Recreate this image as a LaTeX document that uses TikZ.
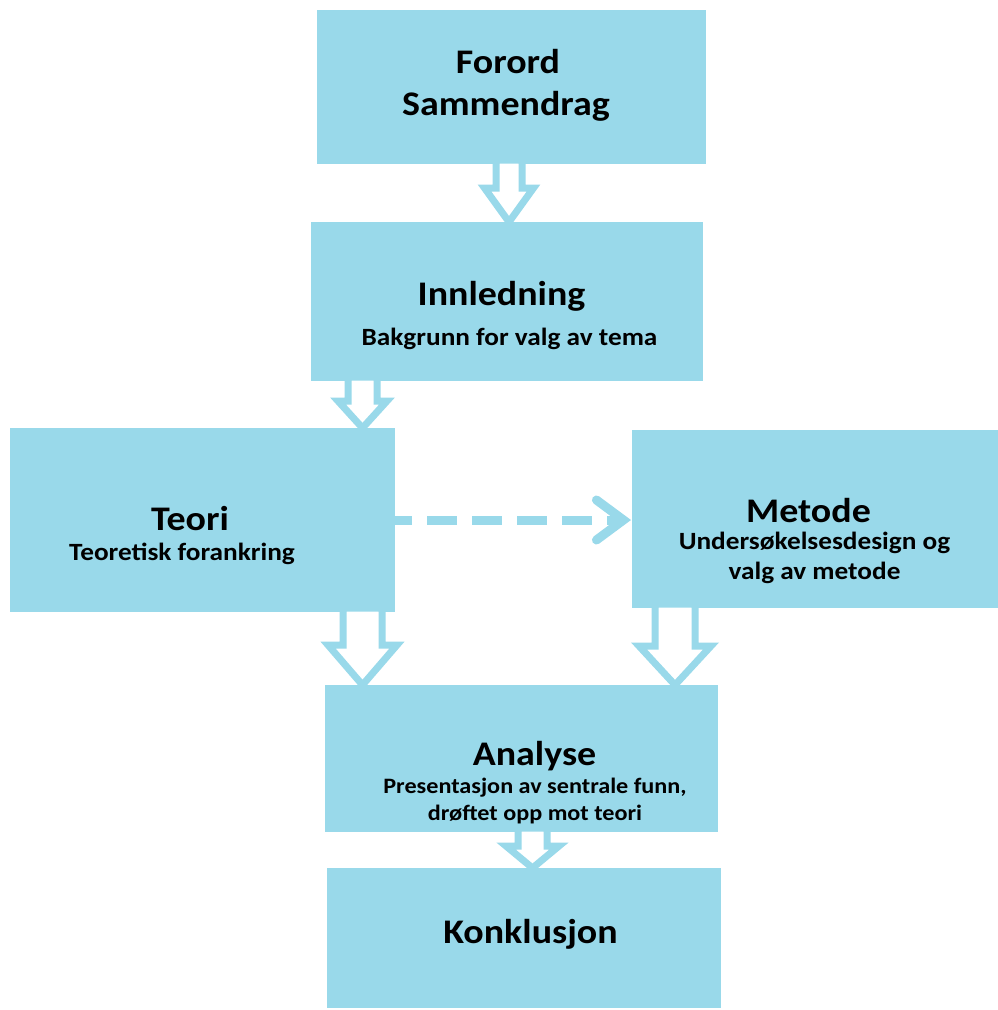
\documentclass[tikz,border=0pt]{standalone}
\usepackage{fontspec}
\setmainfont[FakeStretch=1.1]{Carlito}
\usetikzlibrary{calc,arrows.meta}
\definecolor{boxblue}{RGB}{153,217,234}
\tikzset{
  box/.style={fill=boxblue,draw=none,inner sep=0pt,outer sep=0pt},
  ttl/.style={font=\fontsize{34.5}{42}\selectfont\bfseries,anchor=base,inner sep=0pt,text=black},
  sub/.style={font=\fontsize{24.8}{28}\selectfont\bfseries,anchor=base,inner sep=0pt,text=black},
  subs/.style={font=\fontsize{22}{26}\selectfont\bfseries,anchor=base,inner sep=0pt,text=black},
  harrow/.style={draw=boxblue,fill=white,line width=7pt,line join=miter},
  dasharrow/.style={draw=boxblue,line width=9pt,dash pattern=on 30pt off 15pt,dash phase=13pt,
    -{Straight Barb[length=27pt,width=40pt,line cap=round,line width=9pt]}}
}
% #1 x, #2 from node, #3 to node, #4 shaft half, #5 head half, #6 head length
\newcommand\blockarrow[6]{%
  \path[harrow] let \p1=(#2.south), \p2=(#3.north) in
    ({#1pt-#4pt},{\y1+4pt}) -- ({#1pt-#4pt},{\y2+#6pt}) -- ({#1pt-#5pt},{\y2+#6pt})
    -- ({#1pt},{\y2}) -- ({#1pt+#5pt},{\y2+#6pt}) -- ({#1pt+#4pt},{\y2+#6pt})
    -- ({#1pt+#4pt},{\y1+4pt}) -- cycle;}
\begin{document}
\begin{tikzpicture}[x=1pt,y=-1pt]
\useasboundingbox (0,0) rectangle (998,1010);
\fill[white] (0,0) rectangle (998,1010);
% boxes
\node[box,minimum width=389pt,minimum height=154pt] (forord) at (511.5,87) {};
\node[box,minimum width=392pt,minimum height=159pt] (innl) at (507,301.5) {};
\node[box,minimum width=385pt,minimum height=184pt] (teori) at (202.5,520) {};
\node[box,minimum width=366pt,minimum height=178pt] (metode) at (815,519) {};
\node[box,minimum width=393pt,minimum height=147pt] (analyse) at (521.5,758.5) {};
\node[box,minimum width=394pt,minimum height=140pt] (konkl) at (524,938) {};
% texts
\node[ttl] (t1a) at (508,73) {Forord};
\node[ttl] (t1b) at (506,115) {Sammendrag};
\node[ttl] (t2a) at (501.5,305) {Innledning};
\node[sub] (t2b) at (509.5,345) {Bakgrunn for valg av tema};
\node[ttl] (t3a) at (190,530) {Teori};
\node[sub] (t3b) at (182,560) {Teoretisk forankring};
\node[ttl] (t4a) at (808.5,522) {Metode};
\node[sub] (t4b) at (814.5,549) {Undersøkelsesdesign og};
\node[sub] (t4c) at (814.5,579) {valg av metode};
\node[ttl] (t5a) at (534.5,765) {Analyse};
\node[subs] (t5b) at (535,793) {Presentasjon av sentrale funn,};
\node[subs] (t5c) at (535,820) {drøftet opp mot teori};
\node[ttl] (t6a) at (530.5,943) {Konklusjon};
% block arrows
\blockarrow{509}{forord}{innl}{13}{24.5}{34}
\blockarrow{362.5}{innl}{teori}{14.5}{24.5}{27}
\blockarrow{362.5}{teori}{analyse}{19.5}{34.5}{40}
\blockarrow{675}{metode}{analyse}{20}{36}{39}
\blockarrow{532.5}{analyse}{konkl}{14.5}{26.5}{22}
% dashed arrow
\draw[dasharrow] (teori.east |- 0,520) -- ($(metode.west |- 0,520)+(-1,0)$);
\end{tikzpicture}
\end{document}
